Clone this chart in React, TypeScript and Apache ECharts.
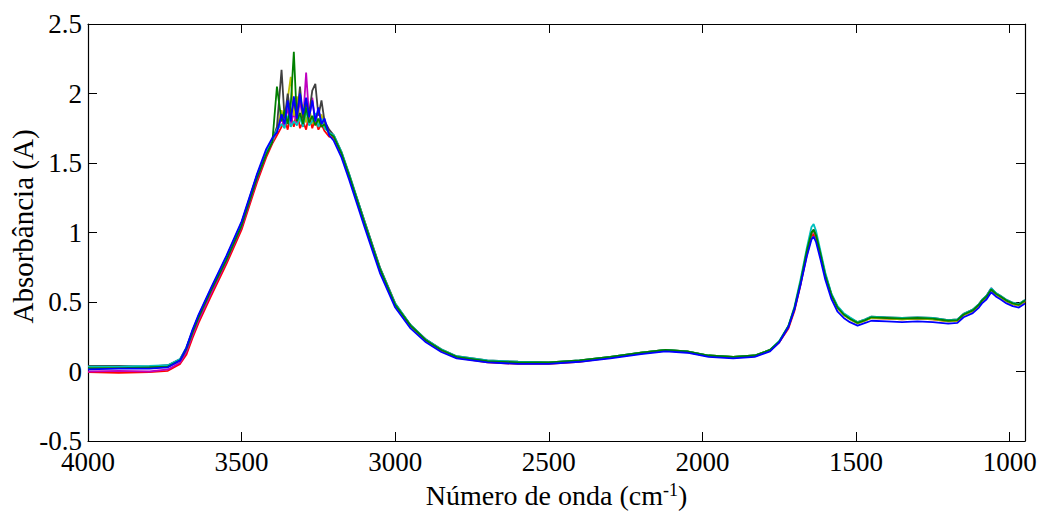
import React, { useEffect, useRef } from "react";
import * as echarts from "echarts";

// Wavenumbers (cm-1)
const wn = [
  4000, 3900, 3800, 3740, 3700, 3680, 3660, 3640, 3600, 3550, 3500, 3450, 3420, 3400,
  3385, 3370, 3360, 3350, 3340, 3330, 3320, 3310, 3300, 3290, 3280, 3270, 3260, 3250, 3240, 3230, 3215,
  3200, 3175, 3150, 3100, 3050, 3000, 2950, 2900, 2850, 2800,
  2700, 2600, 2500, 2400, 2300, 2200, 2120, 2050, 1980, 1900,
  1830, 1780, 1750, 1720, 1700, 1680, 1660, 1645, 1638, 1630,
  1615, 1600, 1580, 1560, 1540, 1520, 1495, 1470, 1450, 1400,
  1350, 1300, 1250, 1200, 1170, 1150, 1120, 1100, 1090, 1075,
  1060, 1045, 1030, 1010, 990, 970, 950,
];

const blueVals = [
  0.015, 0.02, 0.02, 0.03, 0.08, 0.17, 0.30, 0.41, 0.60, 0.83, 1.08, 1.42, 1.60, 1.68,
  1.72, 1.85, 1.78, 1.95, 1.80, 1.98, 1.82, 2.00, 1.85, 1.97, 1.83, 1.95, 1.80, 1.90, 1.78, 1.82, 1.70,
  1.66, 1.54, 1.38, 1.04, 0.71, 0.46, 0.31, 0.21, 0.14, 0.095,
  0.065, 0.055, 0.055, 0.07, 0.095, 0.125, 0.145, 0.135, 0.105, 0.095,
  0.105, 0.145, 0.21, 0.32, 0.45, 0.63, 0.83, 0.95, 0.97, 0.93,
  0.80, 0.66, 0.52, 0.43, 0.385, 0.355, 0.33, 0.35, 0.365, 0.36,
  0.355, 0.36, 0.355, 0.345, 0.35, 0.39, 0.42, 0.46, 0.49, 0.52,
  0.57, 0.54, 0.52, 0.49, 0.47, 0.46, 0.49,
];

const greenVals = [
  0.025, 0.025, 0.03, 0.035, 0.08, 0.16, 0.28, 0.39, 0.58, 0.80, 1.05, 1.39, 1.56, 1.65,
  2.05, 1.80, 1.88, 1.78, 1.92, 2.30, 1.80, 1.86, 1.78, 1.90, 1.79, 1.84, 1.77, 1.82, 1.76, 1.78, 1.71,
  1.69, 1.57, 1.41, 1.07, 0.74, 0.48, 0.33, 0.225, 0.155, 0.105,
  0.075, 0.065, 0.065, 0.08, 0.105, 0.135, 0.155, 0.145, 0.115, 0.105,
  0.115, 0.155, 0.215, 0.325, 0.46, 0.65, 0.87, 1.00, 1.02, 0.98,
  0.84, 0.69, 0.55, 0.46, 0.41, 0.38, 0.35, 0.37, 0.39, 0.385,
  0.38, 0.385, 0.38, 0.365, 0.37, 0.41, 0.44, 0.48, 0.51, 0.54,
  0.59, 0.56, 0.54, 0.51, 0.49, 0.48, 0.51,
];

const redVals = [
  -0.005, -0.01, -0.005, 0.005, 0.055, 0.12, 0.24, 0.35, 0.54, 0.77, 1.02, 1.36, 1.54, 1.64,
  1.70, 1.76, 1.82, 1.74, 1.85, 1.76, 1.88, 1.75, 1.80, 1.74, 1.86, 1.75, 1.82, 1.74, 1.78, 1.73, 1.69,
  1.68, 1.57, 1.41, 1.08, 0.75, 0.49, 0.33, 0.225, 0.15, 0.10,
  0.065, 0.055, 0.055, 0.07, 0.10, 0.13, 0.15, 0.14, 0.11, 0.10,
  0.11, 0.15, 0.21, 0.31, 0.44, 0.63, 0.84, 0.97, 0.99, 0.96,
  0.83, 0.69, 0.55, 0.46, 0.41, 0.38, 0.35, 0.37, 0.385, 0.38,
  0.375, 0.38, 0.375, 0.36, 0.365, 0.405, 0.435, 0.475, 0.505, 0.535,
  0.585, 0.555, 0.535, 0.505, 0.485, 0.475, 0.505,
];

const cyanVals = [
  0.035, 0.035, 0.04, 0.045, 0.09, 0.17, 0.29, 0.40, 0.59, 0.82, 1.07, 1.41, 1.58, 1.66,
  1.74, 1.78, 1.75, 1.84, 1.76, 1.80, 1.77, 1.83, 1.76, 1.88, 1.77, 1.80, 1.86, 1.76, 1.82, 1.75, 1.72,
  1.70, 1.58, 1.42, 1.08, 0.75, 0.49, 0.335, 0.23, 0.16, 0.11,
  0.08, 0.07, 0.065, 0.08, 0.105, 0.135, 0.155, 0.145, 0.115, 0.105,
  0.115, 0.155, 0.22, 0.33, 0.47, 0.67, 0.89, 1.04, 1.06, 1.01,
  0.86, 0.71, 0.56, 0.47, 0.42, 0.39, 0.355, 0.375, 0.395, 0.39,
  0.385, 0.39, 0.385, 0.37, 0.375, 0.415, 0.445, 0.485, 0.515, 0.545,
  0.60, 0.565, 0.545, 0.515, 0.495, 0.485, 0.515,
];

const magentaVals = [
  0.0, 0.005, 0.0, 0.015, 0.065, 0.14, 0.26, 0.37, 0.56, 0.79, 1.04, 1.38, 1.56, 1.65,
  1.73, 1.82, 1.76, 1.90, 1.78, 1.86, 1.79, 1.95, 1.80, 2.15, 1.82, 1.97, 1.79, 1.88, 1.80, 1.78, 1.72,
  1.69, 1.57, 1.41, 1.07, 0.74, 0.48, 0.33, 0.23, 0.155, 0.105,
  0.07, 0.06, 0.06, 0.075, 0.10, 0.13, 0.15, 0.14, 0.11, 0.10,
  0.11, 0.15, 0.21, 0.32, 0.45, 0.64, 0.86, 0.99, 1.01, 0.97,
  0.83, 0.69, 0.55, 0.46, 0.41, 0.38, 0.35, 0.37, 0.39, 0.385,
  0.38, 0.385, 0.38, 0.365, 0.37, 0.41, 0.44, 0.48, 0.51, 0.545,
  0.60, 0.56, 0.54, 0.51, 0.49, 0.48, 0.51,
];

const oliveVals = [
  0.02, 0.025, 0.025, 0.035, 0.085, 0.165, 0.285, 0.395, 0.585, 0.815, 1.065, 1.405, 1.575, 1.655,
  1.75, 1.88, 1.80, 1.96, 2.12, 1.84, 1.98, 1.80, 1.92, 1.79, 1.90, 1.78, 1.84, 1.79, 1.85, 1.76, 1.73,
  1.69, 1.565, 1.405, 1.065, 0.735, 0.475, 0.325, 0.225, 0.155, 0.105,
  0.075, 0.065, 0.06, 0.075, 0.10, 0.135, 0.155, 0.145, 0.115, 0.105,
  0.115, 0.155, 0.215, 0.325, 0.455, 0.645, 0.86, 0.995, 1.015, 0.975,
  0.83, 0.69, 0.545, 0.455, 0.405, 0.375, 0.345, 0.365, 0.385, 0.38,
  0.375, 0.38, 0.375, 0.36, 0.365, 0.405, 0.435, 0.475, 0.505, 0.535,
  0.585, 0.555, 0.535, 0.505, 0.485, 0.475, 0.505,
];

const darkVals = [
  0.04, 0.04, 0.035, 0.045, 0.09, 0.17, 0.29, 0.40, 0.59, 0.82, 1.07, 1.41, 1.58, 1.66,
  1.76, 2.17, 1.82, 2.00, 1.84, 1.95, 1.83, 2.05, 1.82, 1.93, 1.86, 2.02, 2.07, 1.84, 1.95, 1.80, 1.74,
  1.70, 1.58, 1.42, 1.08, 0.745, 0.485, 0.335, 0.23, 0.16, 0.11,
  0.08, 0.07, 0.065, 0.08, 0.105, 0.135, 0.155, 0.145, 0.115, 0.105,
  0.115, 0.155, 0.215, 0.325, 0.455, 0.645, 0.86, 1.00, 1.02, 0.98,
  0.84, 0.70, 0.555, 0.465, 0.415, 0.385, 0.355, 0.375, 0.395, 0.39,
  0.385, 0.39, 0.385, 0.37, 0.375, 0.415, 0.445, 0.485, 0.515, 0.545,
  0.595, 0.565, 0.545, 0.515, 0.495, 0.485, 0.515,
];

const xTicks = [1000, 1500, 2000, 2500, 3000, 3500, 4000];
const yTicks = [-0.5, 0, 0.5, 1, 1.5, 2, 2.5];
const xTitle = "Número de onda (cm";
const xTitleSup = "-1";
const yTitle = "Absorbância (A)";

const seriesList = [
  { name: "s1", color: "#FF0000", values: redVals },
  { name: "s2", color: "#BF00BF", values: magentaVals },
  { name: "s3", color: "#BFBF00", values: oliveVals },
  { name: "s4", color: "#404040", values: darkVals },
  { name: "s5", color: "#00BFBF", values: cyanVals },
  { name: "s6", color: "#008000", values: greenVals },
  { name: "s7", color: "#0000FF", values: blueVals },
];

const FONT = "Liberation Serif";

export default function App() {
  const ref = useRef<HTMLDivElement>(null);
  useEffect(() => {
    if (!ref.current) return;
    const chart = echarts.init(ref.current, null, { renderer: "svg" });
    const axisLine = { show: true, onZero: false, lineStyle: { color: "#000", width: 1.2 } };
    const xBase = {
      type: "value",
      min: 950,
      max: 4000,
      inverse: true,
      axisLine,
      splitLine: { show: false },
      axisLabel: { show: false },
      axisTick: { show: true, inside: true, length: 9, customValues: xTicks, lineStyle: { color: "#000" } },
    };
    const yBase = {
      type: "value",
      min: -0.5,
      max: 2.5,
      interval: 0.5,
      axisLine,
      splitLine: { show: false },
      axisLabel: { show: false },
      axisTick: { show: true, inside: true, length: 9, lineStyle: { color: "#000" } },
    };
    chart.setOption({
      animation: false,
      backgroundColor: "#fff",
      grid: { left: 88, top: 24, right: 17, bottom: 70, containLabel: false },
      xAxis: [
        { ...xBase, position: "bottom" },
        { ...xBase, position: "top" },
      ],
      yAxis: [
        { ...yBase, position: "left" },
        { ...yBase, position: "right" },
      ],
      series: seriesList.map((s) => ({
        name: s.name,
        type: "line",
        xAxisIndex: 0,
        yAxisIndex: 0,
        symbol: "none",
        showSymbol: false,
        silent: true,
        lineStyle: { color: s.color, width: 1.8 },
        data: wn.map((w, i) => [w, s.values[i]]),
      })),
    });

    const finder = { xAxisIndex: 0, yAxisIndex: 0 };
    const [x0, yBottom] = chart.convertToPixel(finder, [4000, -0.5]) as number[];
    const [x1, yTop] = chart.convertToPixel(finder, [950, 2.5]) as number[];
    const graphics: any[] = [];
    xTicks.forEach((v) => {
      const [px] = chart.convertToPixel(finder, [v, -0.5]) as number[];
      graphics.push({
        type: "text",
        x: px,
        y: yBottom + 21,
        silent: true,
        style: {
          text: String(v),
          fontFamily: FONT,
          fontSize: 27,
          fill: "#000",
          align: "center",
          verticalAlign: "middle",
        },
      });
    });
    yTicks.forEach((v) => {
      const [, py] = chart.convertToPixel(finder, [4000, v]) as number[];
      graphics.push({
        type: "text",
        x: x0 - 6,
        y: py,
        silent: true,
        style: {
          text: String(v),
          fontFamily: FONT,
          fontSize: 27,
          fill: "#000",
          align: "right",
          verticalAlign: "middle",
        },
      });
    });
    graphics.push({
      type: "text",
      x: (x0 + x1) / 2,
      y: yBottom + 54,
      silent: true,
      style: {
        text: "{n|" + xTitle + "}{s|" + xTitleSup + "}{n|)}",
        align: "center",
        verticalAlign: "middle",
        rich: {
          n: { fontFamily: FONT, fontSize: 28, fill: "#000", color: "#000", verticalAlign: "bottom" },
          s: { fontFamily: FONT, fontSize: 18, fill: "#000", color: "#000", verticalAlign: "top" },
        },
      },
    });
    graphics.push({
      type: "text",
      x: 23,
      y: (yTop + yBottom) / 2 - 6,
      rotation: Math.PI / 2,
      silent: true,
      style: {
        text: yTitle,
        fontFamily: FONT,
        fontSize: 29,
        fill: "#000",
        align: "center",
        verticalAlign: "middle",
      },
    });
    chart.setOption({ graphic: graphics });
    return () => chart.dispose();
  }, []);
  return (
    <div
      ref={ref}
      style={{ position: "absolute", left: 0, top: 0, width: 1042, height: 511 }}
    />
  );
}
